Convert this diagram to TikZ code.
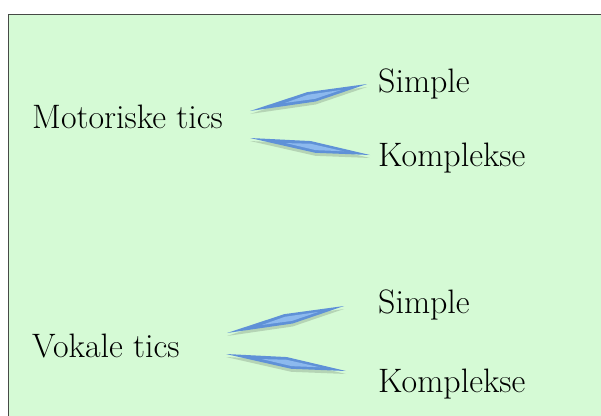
\documentclass[tikz,border=0pt]{standalone}
\usetikzlibrary{calc}
\definecolor{boxgreen}{RGB}{213,250,213}
\definecolor{boxline}{RGB}{70,74,70}
\definecolor{lensblue}{RGB}{95,145,215}
\definecolor{lenslight}{RGB}{140,185,238}
\tikzset{
  label text/.style={inner sep=0pt, anchor=base west, font=\fontsize{33.9}{38}\selectfont},
  lensfill/.style={fill=lensblue},
  lensinner/.style={fill=lenslight},
  lensshadow/.style={fill=black, opacity=0.15},
}
\newcommand\lensconn[2]{%
  \fill[lensshadow] ([yshift=-3pt]#1) -- ([yshift=-3pt]$(#1)!0.5!(#2)!5.5pt!90:(#2)$) -- ([yshift=-3pt]#2) -- ([yshift=-3pt]$(#1)!0.55!(#2)!5.5pt!-90:(#2)$) -- cycle;
  \fill[lensfill] (#1) -- ($(#1)!0.5!(#2)!5.5pt!90:(#2)$) -- (#2) -- ($(#1)!0.55!(#2)!5.5pt!-90:(#2)$) -- cycle;
  \fill[lensinner] ($(#1)!0.3!(#2)$) -- ($(#1)!0.5!(#2)!2.8pt!90:(#2)$) -- ($(#1)!0.78!(#2)$) -- ($(#1)!0.55!(#2)!2.8pt!-90:(#2)$) -- cycle;
}
\begin{document}
\begin{tikzpicture}[x=1pt,y=-1pt]
\useasboundingbox (0,0) rectangle (601,415);
\fill[white] (0,0) rectangle (601,415);
\draw[boxline, line width=1.5pt, fill=boxgreen] (8.5,14.5) rectangle (610,425);

\node[label text] (mot) at (32,128) {Motoriske tics};
\node[label text] (simp1) at (378,92) {Simple};
\node[label text] (komp1) at (378,166) {Komplekse};
\node[label text] (vok) at (32,357) {Vokale tics};
\node[label text] (simp2) at (378,313) {Simple};
\node[label text] (komp2) at (378,392) {Komplekse};

\coordinate (m1) at (250,111);
\coordinate (s1) at (367,84);
\coordinate (m2) at (250,138);
\coordinate (k1) at (370,155);
\coordinate (v1) at (227,333);
\coordinate (s2) at (344,306);
\coordinate (v2) at (226,354);
\coordinate (k2) at (346,371);

\lensconn{m1}{s1}
\lensconn{m2}{k1}
\lensconn{v1}{s2}
\lensconn{v2}{k2}
\end{tikzpicture}
\end{document}
